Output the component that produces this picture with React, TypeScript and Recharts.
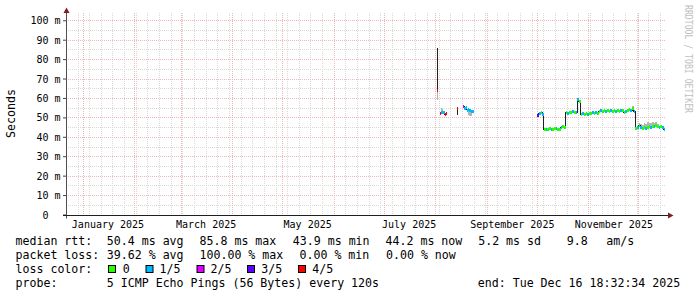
import React from 'react';
import { ComposedChart, Line, Area, XAxis, YAxis, CartesianGrid } from 'recharts';

const MONO = '"DejaVu Sans Mono", monospace';
const YEAR = '2025';
const END_TIME = '2025-12-16T18:32:34';
const SPAN_DAYS = 360;

const monthStarts = ['2025-01-01', '2025-02-01', '2025-03-01', '2025-04-01', '2025-05-01', '2025-06-01', '2025-07-01', '2025-08-01', '2025-09-01', '2025-10-01', '2025-11-01', '2025-12-01'];
const monthLabelDates = ['2025-01-16', '2025-03-16', '2025-05-16', '2025-07-16', '2025-09-16', '2025-11-16'];
const monthLabels = ['January 2025', 'March 2025', 'May 2025', 'July 2025', 'September 2025', 'November 2025'];
const firstSunday = '2024-12-22';

const yTicks = [0, 10, 20, 30, 40, 50, 60, 70, 80, 90, 100];
const yMajor = [10, 20, 30, 40, 50, 60, 70, 80, 90, 100];
const yMinor = [5, 15, 25, 35, 45, 55, 65, 75, 85, 95];

// August samples (12 h steps); null = no data
const augTimes = ['08-01T12:00', '08-02T00:00', '08-02T12:00', '08-03T12:00', '08-04T00:00', '08-04T12:00', '08-05T00:00', '08-05T12:00', '08-06T00:00', '08-06T12:00', '08-07T00:00', '08-07T12:00', '08-13T12:00', '08-14T00:00', '08-14T12:00', '08-17T12:00', '08-18T00:00', '08-18T12:00', '08-19T00:00', '08-19T12:00', '08-20T00:00', '08-20T12:00', '08-21T00:00', '08-21T12:00', '08-22T00:00', '08-22T12:00', '08-23T00:00', '08-23T12:00', '08-24T00:00'];
const augMedian: (number | null)[] = [85.8, 64, null, 52.5, 53, 53.2, 52.8, 53, 52.6, 52, 52.2, null, 52, 55, null, 55.8, 55, 54.8, 55.2, 54.5, 54, 54.2, 53.6, 54, 53.5, 53.8, 53.2, 53.5, null];
const augLoss = [1, 4, 0, 4, 1, 1, 1, 1, 1, 4, 4, 0, 1, 4, 0, 2, 1, 1, 1, 1, 1, 1, 1, 1, 1, 1, 1, 1, 0];

// Autumn samples (daily)
const autumnDays = [
  '10-01', '10-02', '10-03', '10-04', '10-05', '10-06', '10-07', '10-08', '10-09', '10-10', '10-11', '10-12', '10-13', '10-14', '10-15', '10-16', '10-17', '10-18', '10-19', '10-20', '10-21', '10-22', '10-23', '10-24', '10-25', '10-26', '10-27', '10-28', '10-29', '10-30', '10-31',
  '11-01', '11-02', '11-03', '11-04', '11-05', '11-06', '11-07', '11-08', '11-09', '11-10', '11-11', '11-12', '11-13', '11-14', '11-15', '11-16', '11-17', '11-18', '11-19', '11-20', '11-21', '11-22', '11-23', '11-24', '11-25', '11-26', '11-27', '11-28', '11-29', '11-30',
  '12-01', '12-02', '12-03', '12-04', '12-05', '12-06', '12-07', '12-08', '12-09', '12-10', '12-11', '12-12', '12-13', '12-14', '12-15', '12-16',
];
const autumnMedian = [
  51.2, 52.5, 53, 52, 44.2, 44, 43.9, 44.5, 44.1, 44, 44.3, 44.6, 44.2, 44, 45.2, 45.5, 45, 53, 52.5, 53, 52.8, 53.2, 52.6, 53, 59.6, 58.5, 52, 52.2, 51.8, 52.3, 52,
  52.5, 52.2, 52.6, 52.4, 52.8, 52.5, 53.4, 53.6, 53.4, 53.8, 53.5, 53.6, 53.3, 53.8, 53.5, 53.7, 53.4, 53.8, 53.5, 53.9, 53.6, 52.9, 53.4, 53.8, 54.3, 54, 54.8, 53.5, 44.5, 45.3,
  46, 45.2, 44.6, 45, 44.3, 44.8, 45.5, 45.2, 45.8, 45.4, 45.9, 45.6, 45.2, 45.5, 44.8, 44.2,
];
const autumnLoss = [
  3, 1, 0, 1, 0, 1, 0, 0, 1, 0, 0, 1, 0, 0, 1, 0, 0, 0, 1, 0, 0, 1, 0, 1, 1, 0, 0, 1, 0, 0, 1,
  0, 0, 1, 0, 1, 0, 0, 1, 0, 0, 1, 0, 0, 1, 0, 0, 1, 0, 0, 1, 0, 0, 1, 0, 0, 1, 0, 1, 0, 1,
  0, 1, 0, 0, 1, 0, 0, 1, 0, 1, 0, 0, 1, 0, 1, 1,
];

// smoke (ping spread) where visible
const smokeTimes = ['08-02T00:00', '08-04T00:00', '08-04T12:00', '08-05T00:00', '08-20T12:00', '08-21T00:00', '08-21T12:00', '08-22T00:00', '08-22T12:00', '11-27T00:00', '12-01T00:00', '12-02T00:00', '12-03T00:00', '12-04T00:00', '12-05T00:00', '12-06T00:00', '12-07T00:00', '12-08T00:00', '12-09T00:00', '12-10T00:00', '12-11T00:00', '12-12T00:00'];
const smokeLow = [59.3, 52.5, 52.5, 52.3, 51.5, 51, 51.2, 51, 51.5, 54.8, 45.5, 45, 44.5, 44.8, 44.3, 44.8, 45.2, 45, 45.5, 45.2, 45.5, 45.4];
const smokeHigh = [64, 55, 55.2, 54.8, 54.2, 53.6, 54, 53.5, 53.8, 56, 47.2, 47, 46.5, 47.5, 47, 47.8, 47.5, 47.2, 48, 47.5, 47.8, 47];

const lossColors = ['#26ff00', '#00b8ff', '#dd00ff', '#5e00ff', '#ff0000'];
const lossNames = ['0', '1/5', '2/5', '3/5', '4/5'];

const rttStats = ['50.4 ms avg', '85.8 ms max', '43.9 ms min', '44.2 ms now', '5.2 ms sd', '9.8', 'am/s'];
const lossStats = ['39.62 % avg', '100.00 % max', '0.00 % min', '0.00 % now'];
const probeText = '5 ICMP Echo Pings (56 Bytes) every 120s';
const endText = 'end: Tue Dec 16 18:32:34 2025';

const ts = (s: string) => new Date(s.length === 10 ? s + 'T00:00' : s).getTime();
const DAY = 86400000;
const endMs = ts(END_TIME);
const startMs = endMs - SPAN_DAYS * DAY;

const weekLines: number[] = [];
for (let t = ts(firstSunday); t <= endMs; t += 7 * DAY) weekLines.push(t);
const monthLines = monthStarts.map(ts);
const labelTicks = monthLabelDates.map(ts);

type Sample = { t: number; v: number | null; loss: number };
const samples: Sample[] = [
  ...augTimes.map((s, i) => ({ t: ts(`${YEAR}-${s}`), v: augMedian[i], loss: augLoss[i] })),
  ...autumnDays.map((s, i) => ({ t: ts(`${YEAR}-${s}T00:00`), v: autumnMedian[i], loss: autumnLoss[i] })),
];
const smokeMap = new Map<number, [number, number]>(
  smokeTimes.map((s, i) => [ts(`${YEAR}-${s}`), [smokeLow[i], smokeHigh[i]]])
);

// each sample becomes one step: start row, end row, then a separator row that
// breaks the coloured bands (the dark median line keeps going through it)
const rows: any[] = [];
samples.forEach((s, i) => {
  const tEnd = i + 1 < samples.length ? samples[i + 1].t : endMs;
  if (s.v == null) {
    rows.push({ t: s.t, all: null, smoke: null, l0: null, l1: null, l2: null, l3: null, l4: null });
    return;
  }
  const sm = smokeMap.get(s.t) ?? null;
  [s.t, tEnd].forEach((t) => {
    const row: any = { t, all: s.v, smoke: sm };
    for (let L = 0; L < 5; L++) row['l' + L] = s.loss === L ? s.v : null;
    rows.push(row);
  });
  rows.push({ t: tEnd, all: s.v, smoke: null, l0: null, l1: null, l2: null, l3: null, l4: null });
});

const XTick = (p: any) => {
  const idx = labelTicks.indexOf(p.payload.value);
  return (
    <text x={p.x} y={p.y + 12.5} textAnchor="middle" fontFamily={MONO} fontSize={10} fill="#000">
      {idx >= 0 ? monthLabels[idx] : ''}
    </text>
  );
};
const YTick = (p: any) => {
  const v = p.payload.value;
  return (
    <text x={p.x} y={p.y + 3.6} textAnchor="end" fontFamily={MONO} fontSize={10} fill="#000">
      {v === 0 ? '0\u00A0\u00A0' : `${v} m`}
    </text>
  );
};

const T = (props: any) => (
  <text fontFamily={MONO} fontSize={11.6} fill="#000" style={{ whiteSpace: 'pre' }} {...props} />
);

export default function App() {
  const boxX = [108.5, 146, 197, 247.5, 298.5];
  const nameX = [122.8, 159.5, 210.5, 261.2, 312.2];
  const rttX = [106.8, 199.5, 292.8, 385.5, 478.2, 566.8, 606.2];
  const lossX = [106.8, 199.5, 299.5, 386];
  return (
    <div style={{ position: 'absolute', left: 0, top: 0, width: 697, height: 297, background: '#fff' }}>
      <style>{`.recharts-cartesian-grid line{shape-rendering:crispEdges}.recharts-line path{shape-rendering:crispEdges}.recharts-area path{shape-rendering:crispEdges}`}</style>
      <ComposedChart width={697} height={297} data={rows} margin={{ top: 13, right: 32, bottom: 52, left: 0 }}>
        <CartesianGrid horizontalValues={yMinor} verticalValues={weekLines} stroke="#d9d9d9" strokeDasharray="1 1" />
        <CartesianGrid horizontalValues={yMajor} verticalValues={monthLines} stroke="#efb8b8" strokeDasharray="1 1" />
        <XAxis dataKey="t" type="number" domain={[startMs, endMs]} allowDataOverflow ticks={labelTicks} tick={XTick}
          axisLine={false} tickLine={false} tickSize={0} tickMargin={0} height={30} interval={0} />
        <YAxis type="number" domain={[0, 104]} allowDataOverflow ticks={yTicks} tick={YTick}
          axisLine={false} tickLine={{ stroke: '#444' }} tickSize={3} tickMargin={2.5} width={66} interval={0} />
        <Area dataKey="smoke" type="linear" stroke="none" fill="#b4b4b4" fillOpacity={1} connectNulls={false}
          dot={false} activeDot={false} isAnimationActive={false} />
        <Line dataKey="all" type="linear" stroke="#202020" strokeWidth={1} dot={false} activeDot={false}
          connectNulls={false} isAnimationActive={false} />
        {lossColors.map((c, L) => (
          <Line key={L} dataKey={'l' + L} type="linear" stroke={c} strokeWidth={3} strokeLinecap="butt" dot={false}
            activeDot={false} connectNulls={false} isAnimationActive={false} />
        ))}
      </ComposedChart>
      <svg width={697} height={297} style={{ position: 'absolute', left: 0, top: 0, pointerEvents: 'none' }}>
        <line x1={66.5} y1={12} x2={66.5} y2={218.5} stroke="#505050" strokeWidth={1} />
        <line x1={63} y1={215.5} x2={668} y2={215.5} stroke="#1f1f1f" strokeWidth={1} />
        <polygon points="63.5,13 69.5,13 66.5,7.5" fill="#801f1f" />
        <polygon points="668,212.5 668,218.5 673.5,215.5" fill="#801f1f" />
        <text transform="translate(15,113.5) rotate(-90)" textAnchor="middle" fontFamily={MONO} fontSize={11.6} fill="#000">Seconds</text>
        <text transform="translate(685,5) rotate(90)" fontFamily={MONO} fontSize={10} fill="#c0c0c0"
          textLength={108} lengthAdjust="spacingAndGlyphs">RRDTOOL / TOBI OETIKER</text>

        <T x={15.5} y={245}>median rtt:</T>
        {rttStats.map((s, i) => <T key={'r' + i} x={rttX[i]} y={245}>{s}</T>)}
        <T x={15.5} y={259}>packet loss:</T>
        {lossStats.map((s, i) => <T key={'p' + i} x={lossX[i]} y={259}>{s}</T>)}
        <T x={15.5} y={273}>loss color:</T>
        {lossColors.map((c, i) => (
          <g key={'b' + i}>
            <rect x={boxX[i]} y={265.5} width={7} height={7} fill={c} stroke="#000" strokeWidth={1} />
            <T x={nameX[i]} y={273}>{lossNames[i]}</T>
          </g>
        ))}
        <T x={15.5} y={287}>probe:</T>
        <T x={106.8} y={287}>{probeText}</T>
        <T x={477.8} y={287}>{endText}</T>
      </svg>
    </div>
  );
}
